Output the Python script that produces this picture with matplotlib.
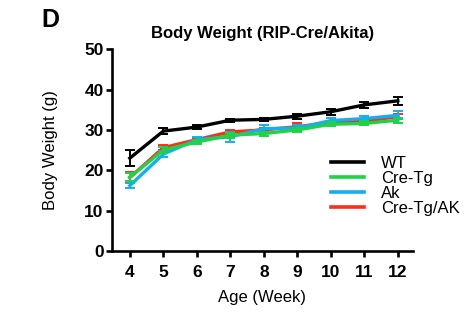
import matplotlib
matplotlib.use("Agg")
import matplotlib.pyplot as plt
from matplotlib.lines import Line2D

plt.rcParams['font.family'] = ['Liberation Sans', 'DejaVu Sans']

weeks = [4, 5, 6, 7, 8, 9, 10, 11, 12]

wt = [23.0, 29.7, 30.7, 32.4, 32.6, 33.4, 34.5, 36.2, 37.2]
wt_err = [1.9, 0.8, 0.6, 0.4, 0.4, 0.6, 0.7, 0.7, 1.0]

cre_tg = [18.3, 25.0, 27.0, 28.7, 29.1, 30.0, 31.4, 31.6, 32.4]
cre_tg_err = [1.0, 0.7, 0.6, 0.6, 0.5, 0.5, 0.5, 0.5, 0.6]

ak = [16.2, 24.0, 27.6, 28.3, 30.3, 30.5, 32.3, 32.8, 33.6]
ak_err = [0.6, 0.7, 0.7, 1.3, 0.8, 0.7, 0.6, 0.6, 1.0]

cre_ak = [18.2, 25.6, 27.6, 29.5, 30.0, 30.8, 31.8, 32.1, 33.3]
cre_ak_err = [1.4, 0.7, 0.5, 0.5, 0.5, 0.8, 0.5, 0.5, 0.7]

series = [
    ("WT", wt, wt_err, "#000000", 5),
    ("Cre-Tg", cre_tg, cre_tg_err, "#1ed446", 4),
    ("Ak", ak, ak_err, "#15aef2", 3),
    ("Cre-Tg/AK", cre_ak, cre_ak_err, "#ff2d14", 2),
]

fig = plt.figure(figsize=(4.65, 3.13), dpi=100)
ax = fig.add_axes([0.241, 0.198, 0.647, 0.645])

handles = []
for name, vals, errs, col, z in series:
    ax.errorbar(weeks, vals, yerr=errs, color=col, lw=2.4, elinewidth=1.4,
                capsize=3.5, capthick=1.4, zorder=z)
    handles.append(Line2D([], [], color=col, lw=2.6, label=name))

ax.set_xlim(3.47, 12.45)
ax.set_ylim(0, 50)
ax.set_xticks(weeks)
ax.set_yticks([0, 10, 20, 30, 40, 50])
for s in ['top', 'right']:
    ax.spines[s].set_visible(False)
for s in ['left', 'bottom']:
    ax.spines[s].set_linewidth(1.9)
ax.tick_params(width=1.9, length=4, labelsize=12.5, pad=6)
ax.tick_params(axis='y', pad=2)
for lbl in ax.get_xticklabels() + ax.get_yticklabels():
    lbl.set_fontweight('bold')

ax.set_xlabel("Age (Week)", fontsize=12, labelpad=7)
ax.set_ylabel("Body Weight (g)", fontsize=12, labelpad=19)
ax.set_title("Body Weight (RIP-Cre/Akita)", fontsize=12, fontweight='bold', pad=8)

ax.legend(handles=handles, loc='upper left', bbox_to_anchor=(0.705, 0.505), frameon=False,
          fontsize=12, handlelength=2.0, handletextpad=1.0,
          labelspacing=0.0, borderaxespad=0)

fig.text(0.09, 0.915, "D", fontsize=18, fontweight='bold')

plt.savefig("out.png", dpi=100)
